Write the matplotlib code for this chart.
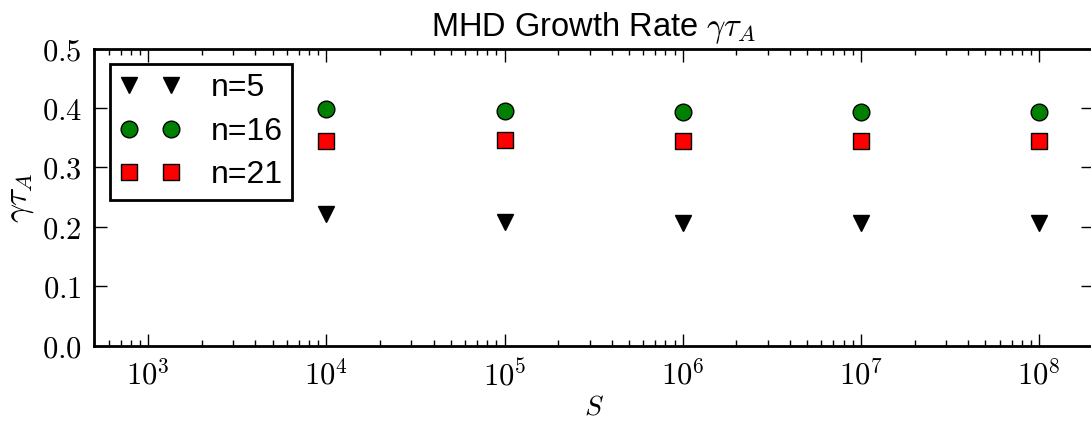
import matplotlib
matplotlib.use("Agg")
import matplotlib.pyplot as plt
from matplotlib.ticker import LogLocator, FuncFormatter, FormatStrFormatter
import numpy as np

plt.rcParams["mathtext.fontset"] = "cm"
plt.rcParams["font.family"] = ["Liberation Sans", "DejaVu Sans"]

# Lundquist numbers and growth rates for each toroidal mode
S_values = [1e4, 1e5, 1e6, 1e7, 1e8]
gamma_n5 = [0.221, 0.209, 0.207, 0.206, 0.206]
gamma_n16 = [0.398, 0.395, 0.394, 0.394, 0.394]
gamma_n21 = [0.345, 0.346, 0.345, 0.345, 0.345]
series_labels = ["n=5", "n=16", "n=21"]
y_ticks = [0.0, 0.1, 0.2, 0.3, 0.4, 0.5]

fig = plt.figure(figsize=(10.91, 4.24), dpi=100)
ax = fig.add_axes([0.0866, 0.184, 0.915, 0.7016])

ms = 12
ax.plot(S_values, gamma_n5, linestyle="none", marker="v", color="k",
        markersize=ms, markeredgecolor="k", markeredgewidth=1, label=series_labels[0])
ax.plot(S_values, gamma_n16, linestyle="none", marker="o", color="g",
        markersize=ms, markeredgecolor="k", markeredgewidth=1, label=series_labels[1])
ax.plot(S_values, gamma_n21, linestyle="none", marker="s", color="r",
        markersize=ms * 0.95, markeredgecolor="k", markeredgewidth=1, label=series_labels[2])

ax.set_xscale("log")
ax.set_xlim(500, 2e8)
ax.set_ylim(0.0, 0.5)
ax.set_yticks(y_ticks)
ax.yaxis.set_major_formatter(FormatStrFormatter(r"$%.1f$"))
ax.xaxis.set_major_locator(LogLocator(base=10, numticks=20))
ax.xaxis.set_minor_locator(LogLocator(base=10, subs=range(2, 10), numticks=100))
ax.xaxis.set_major_formatter(FuncFormatter(lambda v, pos: r"$10^{%d}$" % int(round(np.log10(v)))))

for sp in ax.spines.values():
    sp.set_linewidth(2)

ax.tick_params(which="both", direction="in", top=True, right=True)
ax.tick_params(which="major", length=9, width=1, labelsize=22)
ax.tick_params(which="minor", length=4.5, width=1)
ax.tick_params(axis="y", which="major", pad=9)
ax.tick_params(axis="x", which="major", pad=10)

ax.set_title(r"MHD Growth Rate $\gamma\tau_A$", fontsize=23.5, pad=9)
ax.set_xlabel(r"$S$", fontsize=20, labelpad=2)
ax.set_ylabel(r"$\gamma\tau_A$", fontsize=24, labelpad=4)

leg = ax.legend(loc="upper left", numpoints=2, fontsize=23, fancybox=False,
                framealpha=1, borderaxespad=0.48, borderpad=0.3, labelspacing=0.42,
                handlelength=1.9, handletextpad=0.95, edgecolor="k")
leg.get_frame().set_linewidth(2)

fig.savefig("out.png", dpi=100)
